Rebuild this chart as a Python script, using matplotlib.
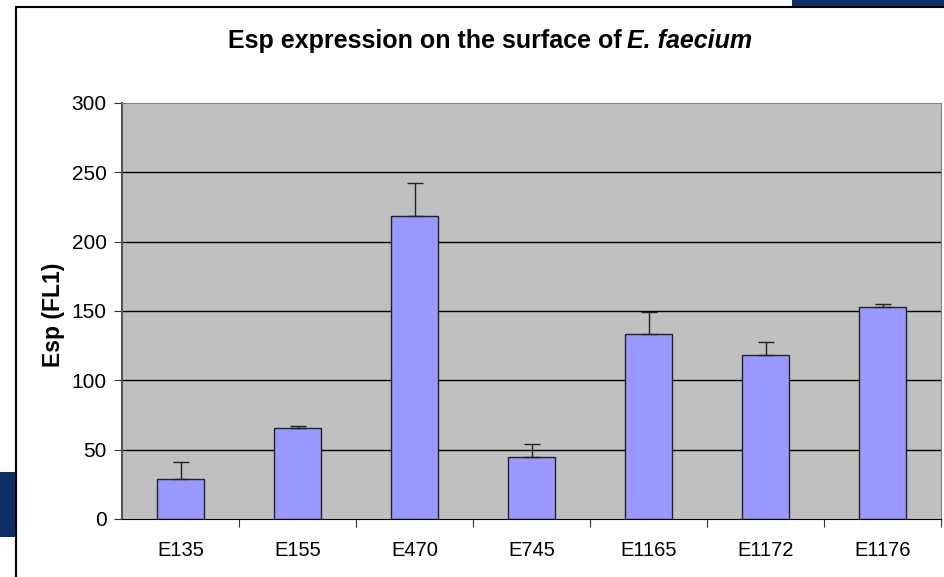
import matplotlib
matplotlib.use('Agg')
import matplotlib.pyplot as plt
from matplotlib.patches import Rectangle

plt.rcParams['font.family'] = ['Liberation Sans', 'DejaVu Sans']

# datos
cepas = ['E135', 'E155', 'E470', 'E745', 'E1165', 'E1172', 'E1176']
esp = [29, 65.5, 218.5, 45, 133.5, 118.5, 153]
error = [12, 1.5, 24, 9, 16, 9, 2]
ticks_y = [0, 50, 100, 150, 200, 250, 300]

fig = plt.figure(figsize=(9.44, 5.77), dpi=100, facecolor='white')

# restos del fondo azul de la diapositiva y marco del grafico
fig.patches.append(Rectangle((792 / 944, 1 - 7 / 577), 1, 7 / 577, transform=fig.transFigure,
                             facecolor='#0d2f66', edgecolor='none', zorder=0))
fig.patches.append(Rectangle((0, 1 - 537 / 577), 16 / 944, 65 / 577, transform=fig.transFigure,
                             facecolor='#0d2f66', edgecolor='none', zorder=0))
fig.patches.append(Rectangle((16 / 944, -0.05), 1.0, 1 - 7 / 577 + 0.05, transform=fig.transFigure,
                             facecolor='white', edgecolor='black', linewidth=1.5, zorder=1))

ax = fig.add_axes([122 / 944, 1 - 519 / 577, 819 / 944, 416 / 577])
ax.set_zorder(2)
ax.set_facecolor('#c0c0c0')

x = list(range(len(cepas)))
ax.bar(x, esp, width=0.4, color='#9999ff', edgecolor='#222222', linewidth=1, zorder=3)
ax.errorbar(x, esp, yerr=[[0] * len(error), error], fmt='none', ecolor='#222222',
            elinewidth=1, capsize=6, capthick=1, zorder=4)

ax.set_xlim(-0.5, len(cepas) - 0.5)
ax.set_ylim(0, 300)
ax.set_yticks(ticks_y)
ax.set_yticklabels([str(t) for t in ticks_y], fontsize=15)
for t in ticks_y[1:-1]:
    ax.axhline(t, color='black', linewidth=1, zorder=1)

# etiquetas en el centro, marcas en los bordes de cada categoria
ax.set_xticks([i + 0.5 for i in x[:-1]] + [len(cepas) - 0.5])
ax.set_xticklabels([])
ax.set_xticks(x, minor=True)
ax.set_xticklabels(cepas, minor=True, fontsize=14.5)
ax.tick_params(axis='x', which='minor', length=0, pad=16)
ax.tick_params(axis='x', which='major', length=6, direction='out', color='#333333')
ax.tick_params(axis='y', length=6, direction='out', color='#333333', pad=5)

ax.spines['left'].set_color('#555555')
ax.spines['left'].set_linewidth(1.5)
ax.spines['bottom'].set_color('black')
ax.spines['top'].set_color('#808080')
ax.spines['right'].set_color('#808080')

ax.set_ylabel('Esp (FL1)', fontsize=16.5, fontweight='bold')
ax.yaxis.set_label_coords(-0.0696, 0.492)

fig.text(0.659, 1 - 41 / 577, 'Esp expression on the surface of', fontsize=18,
         fontweight='bold', ha='right', va='center')
fig.text(0.664, 1 - 41 / 577, 'E. faecium', fontsize=18, fontweight='bold',
         style='italic', ha='left', va='center')

fig.savefig('out.png', dpi=100, facecolor=fig.get_facecolor())
